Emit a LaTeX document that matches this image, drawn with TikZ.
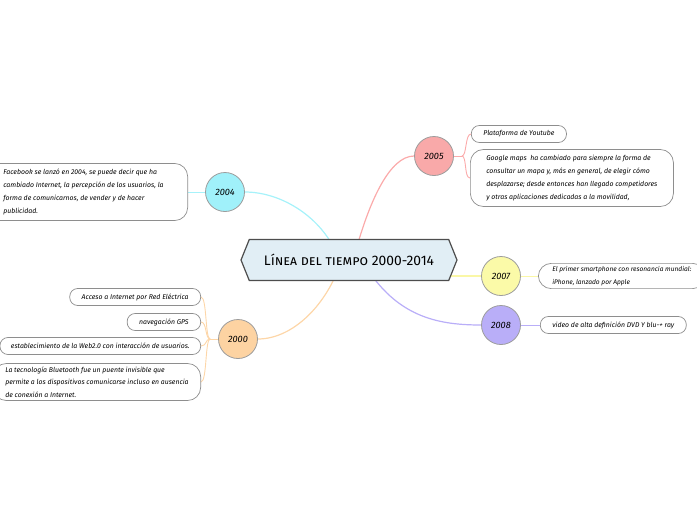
\documentclass[tikz,border=0pt]{standalone}
\usepackage{fontspec}
\setmainfont{Fira Sans}
\usetikzlibrary{shapes.symbols, positioning, calc, backgrounds}
\definecolor{hubfill}{HTML}{E1EEF5}
\definecolor{hubline}{HTML}{4D4D4D}
\definecolor{ringline}{HTML}{9C9C9C}
\definecolor{leafline}{HTML}{8E8E8E}
\definecolor{fill05}{HTML}{F9A9A9}
\definecolor{fill04}{HTML}{A0F1FA}
\definecolor{fill07}{HTML}{FBFAA8}
\definecolor{fill08}{HTML}{B9AEF8}
\definecolor{fill00}{HTML}{FDD3A2}
\definecolor{line05}{HTML}{FBAAAA}
\definecolor{line04}{HTML}{A6F2FA}
\definecolor{line07}{HTML}{FAF7A6}
\definecolor{line08}{HTML}{B9AEF8}
\definecolor{line00}{HTML}{FDD6A8}

\begin{document}
\begin{tikzpicture}[
    x=1pt, y=-1pt,
    hub/.style={signal, signal to=west and east, signal pointer angle=136, draw=hubline, fill=hubfill, line width=1.2pt, minimum width=216pt, minimum height=41pt, inner sep=0pt, font=\fontsize{13.8}{15}\selectfont},
    year/.style={circle, draw=ringline, line width=0.8pt, minimum size=39pt, inner sep=0pt, font=\itshape\fontsize{9.2}{10}\selectfont},
    leaf/.style={rectangle, draw=leafline, fill=white, line width=0.7pt, rounded corners=8pt, align=left, minimum height=17pt, inner xsep=12pt, inner ysep=4pt, font=\itshape\fontsize{6.9}{12.7}\selectfont},
    bigleaf/.style={leaf, rounded corners=13pt, inner ysep=6pt},
    link/.style={line width=1.2pt},
    twig/.style={line width=0.9pt, out distance=5pt, in distance=6pt}
]
    \useasboundingbox (0,0) rectangle (697,520);

    % Centre and years
    \node[hub] (hub) at (349,260) {\textsc{Línea del tiempo} 2000-2014};
    \node[year, fill=fill05] (y2005) at (434,156) {2005};
    \node[year, fill=fill04] (y2004) at (225,192) {2004};
    \node[year, fill=fill07] (y2007) at (501,276) {2007};
    \node[year, fill=fill08] (y2008) at (501,325) {2008};
    \node[year, fill=fill00] (y2000) at (238,339) {2000};

    % Leaves
    \node[leaf, anchor=west] (youtube) at (471,134) {Plataforma de Youtube};
    \node[bigleaf, anchor=west, inner xsep=16pt] (gmaps) at (470,178) {Google maps\ \ ha cambiado para siempre la forma de\\consultar un mapa y, más en general, de elegir cómo\\desplazarse; desde entonces han llegado competidores\\y otras aplicaciones dedicadas a la movilidad,};
    \node[bigleaf, anchor=east, inner xsep=24pt] (facebook) at (188,192) {Facebook se lanzó en 2004, se puede decir que ha\\cambiado Internet, la percepción de los usuarios, la\\forma de comunicarnos, de vender y de hacer\\publicidad.};
    \node[bigleaf, anchor=west, inner xsep=14pt, inner ysep=3pt, font=\itshape\fontsize{6.6}{12.7}\selectfont] (iphone) at (538,276) {El primer smartphone con resonancia mundial:\\iPhone, lanzado por Apple};
    \node[leaf, anchor=west] (dvd) at (540,325) {video de alta definición DVD Y blu-+ ray};
    \node[leaf, anchor=east] (plc) at (201,297) {Acceso a Internet por Red Eléctrica};
    \node[leaf, anchor=east] (gps) at (201,322) {navegación GPS};
    \node[leaf, anchor=east, inner xsep=11pt] (web) at (201,346) {establecimiento de la Web2.0 con interacción de usuarios.};
    \node[bigleaf, anchor=east, inner xsep=12pt, inner ysep=3pt] (bluetooth) at (201,382) {La tecnología Bluetooth fue un puente invisible que\\permite a los dispositivos comunicarse incluso en ausencia\\de conexión a Internet.};

    % Branches
    \begin{scope}[on background layer]
        \draw[link, line05] (356,250) .. controls (370,200) and (390,156) .. (y2005.west);
        \draw[link, line04] (335,250) .. controls (318,215) and (280,192) .. (y2004.east);
        \draw[link, line07] (y2007.west) -- (y2007.west -| hub.center);
        \draw[link, line08] (368,270) .. controls (400,318) and (440,325) .. (y2008.west);
        \draw[link, line00] (338,270) .. controls (322,310) and (290,339) .. (y2000.east);

        \draw[twig, line05] (y2005.east) -- ++(8,0) coordinate (f2005);
        \draw[twig, line05] (f2005) to[out=0, in=180] (youtube.west);
        \draw[twig, line05] (f2005) to[out=0, in=180] (gmaps.west);
        \draw[twig, line04] (facebook.east) -- (y2004.west);
        \draw[twig, line07] (y2007.east) -- (iphone.west);
        \draw[twig, line08] (y2008.east) -- (dvd.west);
        \draw[twig, line00] (y2000.west) -- ++(-8,0) coordinate (f2000);
        \foreach \leafname in {plc, gps, web, bluetooth}
            \draw[twig, line00] (f2000) to[out=180, in=0] (\leafname.east);
    \end{scope}
\end{tikzpicture}
\end{document}
